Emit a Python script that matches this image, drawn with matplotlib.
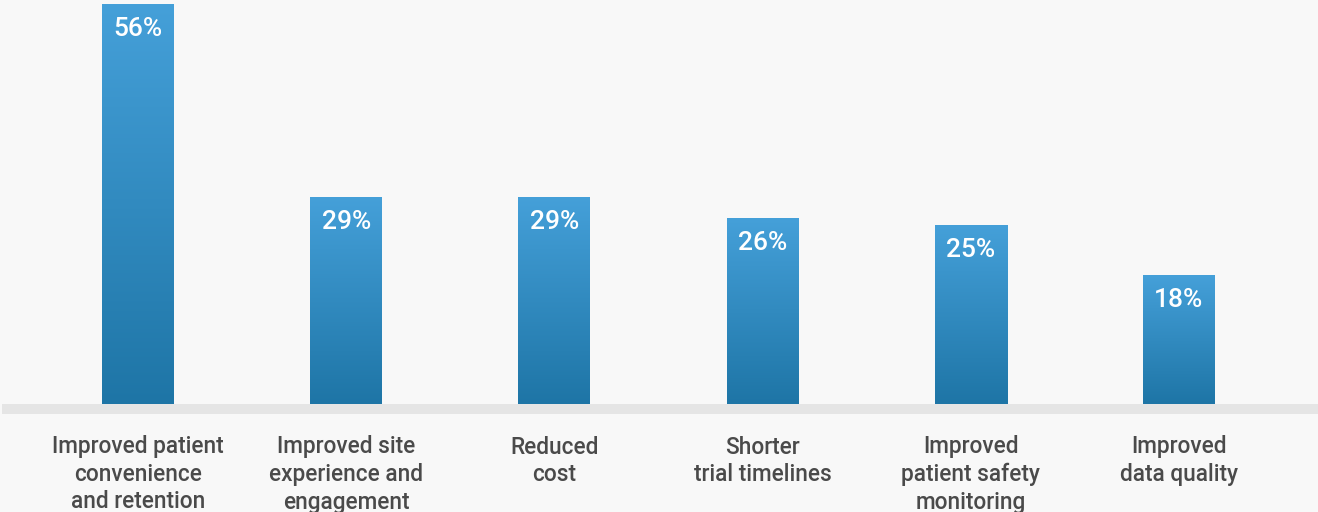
import numpy as np
import matplotlib.pyplot as plt
from matplotlib.patches import Rectangle

# chart data
categories = ["Improved patient\nconvenience\nand retention",
              "Improved site\nexperience and\nengagement",
              "Reduced\ncost",
              "Shorter\ntrial timelines",
              "Improved\npatient safety\nmonitoring",
              "Improved\ndata quality"]
values = [56, 29, 29, 26, 25, 18]
value_labels = ["56%", "29%", "29%", "26%", "25%", "18%"]

bg = "#f8f8f8"
top_col = np.array([0x45, 0xa0, 0xd9]) / 255
bot_col = np.array([0x1e, 0x75, 0xa6]) / 255

plt.rcParams['font.family'] = ['Roboto', 'DejaVu Sans']

fig = plt.figure(figsize=(13.18, 5.12), dpi=100, facecolor=bg)
ax = fig.add_axes([0, 0, 1, 1])
ax.set_facecolor(bg)

px_per_unit = 400 / 56
spacing = 208.2
ax.set_xlim(-138 / spacing, 5 + 139 / spacing)
ax.set_ylim(-108 / px_per_unit, 56 + 4 / px_per_unit)
ax.axis('off')

# baseline band
ax.add_patch(Rectangle((-136 / spacing, -10 / px_per_unit), 10, 10 / px_per_unit,
                       facecolor="#e5e5e5", edgecolor='none', zorder=1))

# vertical gradient image
grad = np.linspace(0, 1, 256)[:, None, None]
grad_img = top_col * (1 - grad) + bot_col * grad

width = 72 / spacing
x = np.arange(len(values))
bars = ax.bar(x, values, width=width, color='none', edgecolor='none', zorder=2)
for bar, lab in zip(bars, value_labels):
    x0, y0 = bar.get_x(), bar.get_y()
    w, h = bar.get_width(), bar.get_height()
    im = ax.imshow(grad_img, extent=[x0, x0 + w, y0, y0 + h], aspect='auto',
                   origin='upper', zorder=2, interpolation='bilinear')
    im.set_clip_path(bar)
    ax.text(x0 + w / 2, h - 25 / px_per_unit, lab, ha='center', va='center',
            color='white', fontsize=19, fontweight='medium', zorder=3)

for xi, cat in zip(x, categories):
    ax.text(xi, -31.5 / px_per_unit, cat, ha='center', va='top', color='#4a4a4a',
            fontsize=16.3, fontweight='medium', linespacing=1.25, zorder=3)

fig.savefig("out.png", dpi=100, facecolor=bg)
